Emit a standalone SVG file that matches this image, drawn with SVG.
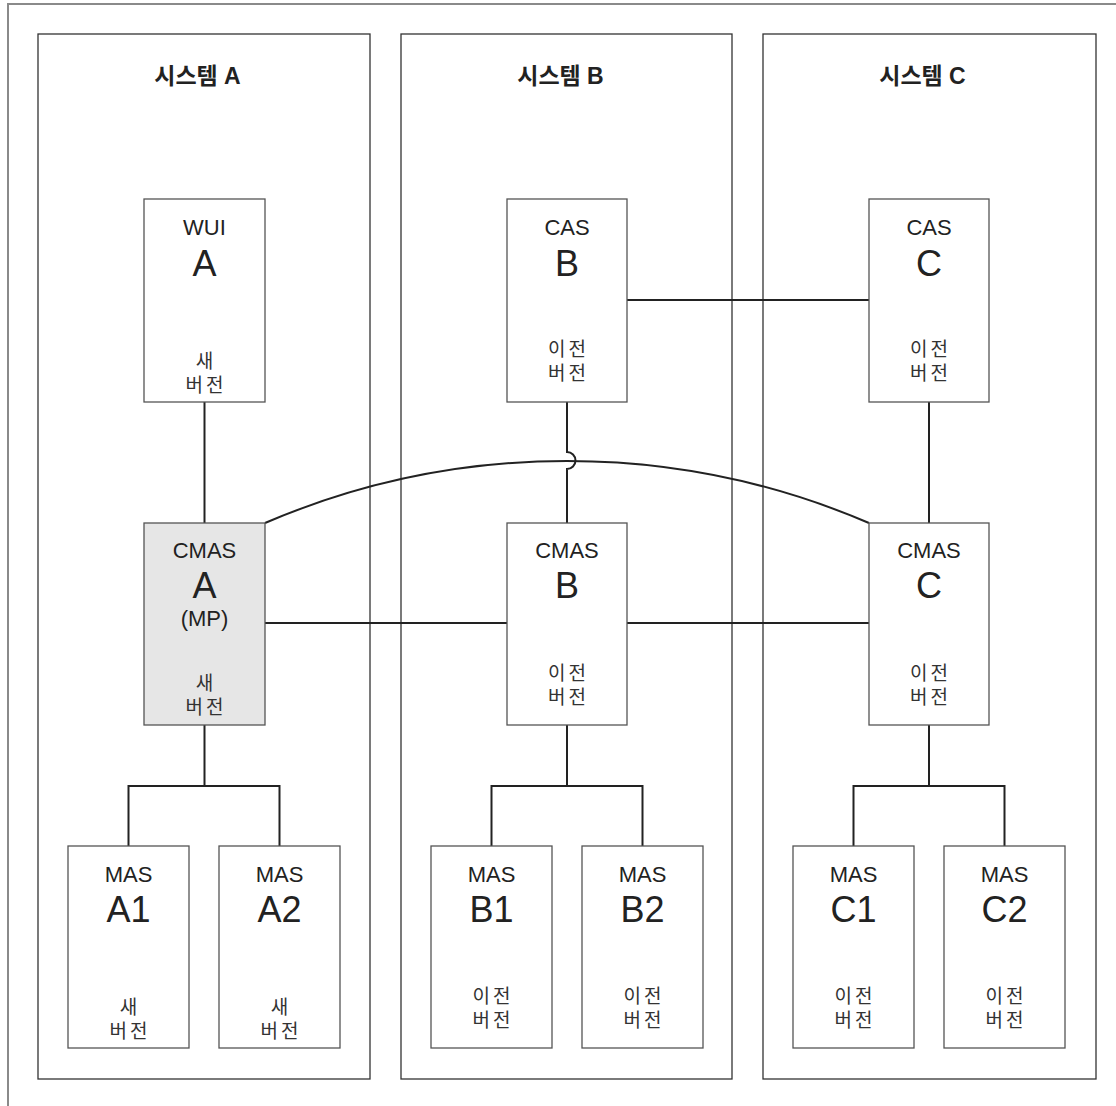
<svg xmlns="http://www.w3.org/2000/svg" width="1116" height="1106" viewBox="0 0 1116 1106">
<style>
.frame{fill:none;stroke:#8a8a8a;stroke-width:2}
.sys{fill:#fff;stroke:#333;stroke-width:1.3}
.node{fill:#fff;stroke:#555;stroke-width:1.3}
.mp{fill:#e6e6e6}
.title{font-family:"Liberation Sans","Noto Sans CJK KR",sans-serif;font-weight:bold;font-size:23px;fill:#222;text-anchor:middle}
.lbl{font-family:"Liberation Sans",Arial,sans-serif;font-size:22px;fill:#222;text-anchor:middle}
.big{font-family:"Liberation Sans",Arial,sans-serif;font-size:36px;fill:#222;text-anchor:middle}
.ko{font-family:"Noto Sans CJK KR",sans-serif;font-size:19px;fill:#333;text-anchor:middle;letter-spacing:3px}
.conn{fill:none;stroke:#222;stroke-width:2}
</style>
<rect width="1116" height="1106" fill="#fff"/>
<path class="frame" d="M8,1106 V4 H1116"/>

<g id="systemA"><rect class="sys" x="38" y="34" width="332" height="1045"/><text class="title" x="197.5" y="84">시스템 A</text></g>
<g id="systemB"><rect class="sys" x="401" y="34" width="331" height="1045"/><text class="title" x="560.5" y="84">시스템 B</text></g>
<g id="systemC"><rect class="sys" x="763" y="34" width="333" height="1045"/><text class="title" x="922.5" y="84">시스템 C</text></g>

<g id="connectors">
<path class="conn" d="M204.5,402 V523"/>
<path class="conn" d="M627,300 H869"/>
<path class="conn" d="M567,402 V452 A8.5,8.5 0 0 1 567,469 V523"/>
<path class="conn" d="M929,402 V523"/>
<path class="conn" d="M265,523 A766.5,766.5 0 0 1 869,523"/>
<path class="conn" d="M265,623 H507"/>
<path class="conn" d="M627,623 H869"/>
<path class="conn" d="M204.5,725 V786 M128.5,846 V786 H279.5 V846"/>
<path class="conn" d="M567,725 V786 M491.5,846 V786 H642.5 V846"/>
<path class="conn" d="M929,725 V786 M853.5,846 V786 H1004.5 V846"/>
</g>

<g id="wuiA"><rect class="node" x="144" y="199" width="121" height="203"/>
<text class="lbl" x="204.5" y="235">WUI</text><text class="big" x="204.5" y="276">A</text>
<text class="ko"><tspan x="206" y="368">새</tspan><tspan x="206" y="392">버전</tspan></text></g>

<g id="casB"><rect class="node" x="507" y="199" width="120" height="203"/>
<text class="lbl" x="567" y="235">CAS</text><text class="big" x="567" y="276">B</text>
<text class="ko"><tspan x="568.5" y="356">이전</tspan><tspan x="568.5" y="380">버전</tspan></text></g>

<g id="casC"><rect class="node" x="869" y="199" width="120" height="203"/>
<text class="lbl" x="929" y="235">CAS</text><text class="big" x="929" y="276">C</text>
<text class="ko"><tspan x="930.5" y="356">이전</tspan><tspan x="930.5" y="380">버전</tspan></text></g>

<g id="cmasA"><rect class="node mp" x="144" y="523" width="121" height="202"/>
<text class="lbl" x="204.5" y="558">CMAS</text><text class="big" x="204.5" y="598">A</text>
<text class="lbl" x="204.5" y="626">(MP)</text>
<text class="ko"><tspan x="206" y="690">새</tspan><tspan x="206" y="714">버전</tspan></text></g>

<g id="cmasB"><rect class="node" x="507" y="523" width="120" height="202"/>
<text class="lbl" x="567" y="558">CMAS</text><text class="big" x="567" y="598">B</text>
<text class="ko"><tspan x="568.5" y="680">이전</tspan><tspan x="568.5" y="704">버전</tspan></text></g>

<g id="cmasC"><rect class="node" x="869" y="523" width="120" height="202"/>
<text class="lbl" x="929" y="558">CMAS</text><text class="big" x="929" y="598">C</text>
<text class="ko"><tspan x="930.5" y="680">이전</tspan><tspan x="930.5" y="704">버전</tspan></text></g>

<g id="masA1"><rect class="node" x="68" y="846" width="121" height="202"/>
<text class="lbl" x="128.5" y="882">MAS</text><text class="big" x="128.5" y="922">A1</text>
<text class="ko"><tspan x="130" y="1014">새</tspan><tspan x="130" y="1038">버전</tspan></text></g>

<g id="masA2"><rect class="node" x="219" y="846" width="121" height="202"/>
<text class="lbl" x="279.5" y="882">MAS</text><text class="big" x="279.5" y="922">A2</text>
<text class="ko"><tspan x="281" y="1014">새</tspan><tspan x="281" y="1038">버전</tspan></text></g>

<g id="masB1"><rect class="node" x="431" y="846" width="121" height="202"/>
<text class="lbl" x="491.5" y="882">MAS</text><text class="big" x="491.5" y="922">B1</text>
<text class="ko"><tspan x="493" y="1003">이전</tspan><tspan x="493" y="1027">버전</tspan></text></g>

<g id="masB2"><rect class="node" x="582" y="846" width="121" height="202"/>
<text class="lbl" x="642.5" y="882">MAS</text><text class="big" x="642.5" y="922">B2</text>
<text class="ko"><tspan x="644" y="1003">이전</tspan><tspan x="644" y="1027">버전</tspan></text></g>

<g id="masC1"><rect class="node" x="793" y="846" width="121" height="202"/>
<text class="lbl" x="853.5" y="882">MAS</text><text class="big" x="853.5" y="922">C1</text>
<text class="ko"><tspan x="855" y="1003">이전</tspan><tspan x="855" y="1027">버전</tspan></text></g>

<g id="masC2"><rect class="node" x="944" y="846" width="121" height="202"/>
<text class="lbl" x="1004.5" y="882">MAS</text><text class="big" x="1004.5" y="922">C2</text>
<text class="ko"><tspan x="1006" y="1003">이전</tspan><tspan x="1006" y="1027">버전</tspan></text></g>
</svg>
